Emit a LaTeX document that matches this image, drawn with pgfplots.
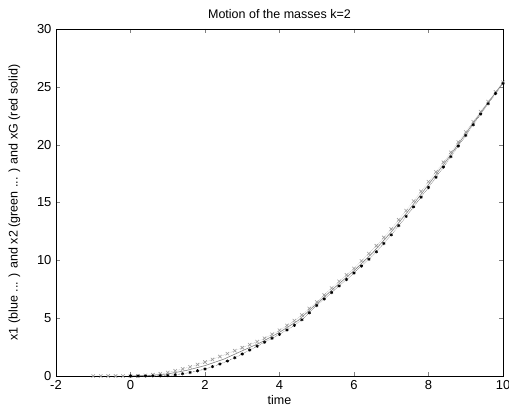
\documentclass[border=0pt]{standalone}
\usepackage{pgfplots}
\pgfplotsset{compat=1.18}
\usepackage{fontspec}
\setmainfont{Liberation Sans}
\begin{document}
\begin{tikzpicture}
\begin{axis}[name=ax,scale only axis,width=447pt,height=347pt,
 xmin=-2,xmax=10,ymin=0,ymax=30,
 xtick={-2,0,...,10},ytick={0,5,...,30},
 tick align=inside,xtick pos=both,ytick pos=both,
 xticklabel pos=lower,yticklabel pos=left,
 major tick length=4pt,
 tick label style={font=\fontsize{13}{15}\selectfont},
 /pgf/number format/assume math mode=true,
 xticklabel style={yshift=-1pt},
 yticklabel style={xshift=-1pt},
 title={Motion of the masses k=2},
 title style={font=\fontsize{12.5}{14}\selectfont,yshift=1pt},
 xlabel={time},ylabel={x1 (blue ... ) and x2 (green ... ) and xG (red solid)},
 label style={font=\fontsize{12.5}{14}\selectfont},
 xlabel style={yshift=1pt},ylabel style={yshift=10pt},
 axis line style={black,line width=0.8pt}]
% x2 (light, x markers)
\addplot[gray!80,densely dotted,mark=x,mark size=2.4pt,mark options={solid,gray!80,line width=0.6pt}] coordinates {
(-1,0) (-0.8,0) (-0.6,0) (-0.4,0) (-0.2,0) (0,0) (0.2,0.01) (0.4,0.05) (0.6,0.11) (0.8,0.2)
(1.0,0.3) (1.2,0.45) (1.4,0.61) (1.6,0.79) (1.8,0.99) (2.0,1.2) (2.2,1.43) (2.4,1.68) (2.6,1.93) (2.8,2.19)
(3.0,2.45) (3.2,2.71) (3.4,2.97) (3.6,3.26) (3.8,3.6) (4.0,3.95) (4.2,4.37) (4.4,4.79) (4.6,5.27) (4.8,5.83)
(5.0,6.4) (5.2,7.0) (5.4,7.6) (5.6,8.18) (5.8,8.74) (6.0,9.3) (6.2,9.94) (6.4,10.58) (6.6,11.26) (6.8,11.98)
(7.0,12.7) (7.2,13.5) (7.4,14.3) (7.6,15.12) (7.8,15.96) (8.0,16.8) (8.2,17.64) (8.4,18.48) (8.6,19.34) (8.8,20.22)
(9.0,21.1) (9.2,21.98) (9.4,22.86) (9.6,23.72) (9.8,24.56) (10.0,25.4)};
% x1 (dark markers)
\addplot[black,densely dotted,mark=asterisk,mark size=1.6pt,mark options={solid,black,line width=0.7pt}] coordinates {
(0,0) (0.2,0) (0.4,0) (0.6,0.01) (0.8,0.02)
(1.0,0.05) (1.2,0.11) (1.4,0.2) (1.6,0.31) (1.8,0.45) (2.0,0.6) (2.2,0.81) (2.4,1.03) (2.6,1.29) (2.8,1.58)
(3.0,1.9) (3.2,2.24) (3.4,2.58) (3.6,2.92) (3.8,3.26) (4.0,3.6) (4.2,3.98) (4.4,4.38) (4.6,4.86) (4.8,5.46)
(5.0,6.1) (5.2,6.66) (5.4,7.22) (5.6,7.78) (5.8,8.34) (6.0,8.9) (6.2,9.5) (6.4,10.1) (6.6,10.74) (6.8,11.46)
(7.0,12.2) (7.2,13.0) (7.4,13.8) (7.6,14.62) (7.8,15.46) (8.0,16.3) (8.2,17.18) (8.4,18.06) (8.6,18.96) (8.8,19.88)
(9.0,20.8) (9.2,21.72) (9.4,22.64) (9.6,23.54) (9.8,24.42) (10.0,25.3)};
% xG (solid)
\addplot[gray,solid,line width=0.6pt,no marks] coordinates {
(0,0) (0.5,0.04) (1,0.18) (1.5,0.48) (2,0.9) (2.5,1.45) (3,2.18) (3.5,2.9) (4,3.78) (4.5,4.8)
(5,6.25) (5.5,7.7) (6,9.1) (6.5,10.65) (7,12.45) (7.5,14.45) (8,16.55) (8.5,18.7) (9,20.95) (9.5,23.2) (10,25.35)};
\end{axis}
\pgfresetboundingbox
\path ([xshift=-56pt,yshift=-36pt]ax.south west) rectangle ([xshift=6pt,yshift=29pt]ax.north east);
\end{tikzpicture}
\end{document}
